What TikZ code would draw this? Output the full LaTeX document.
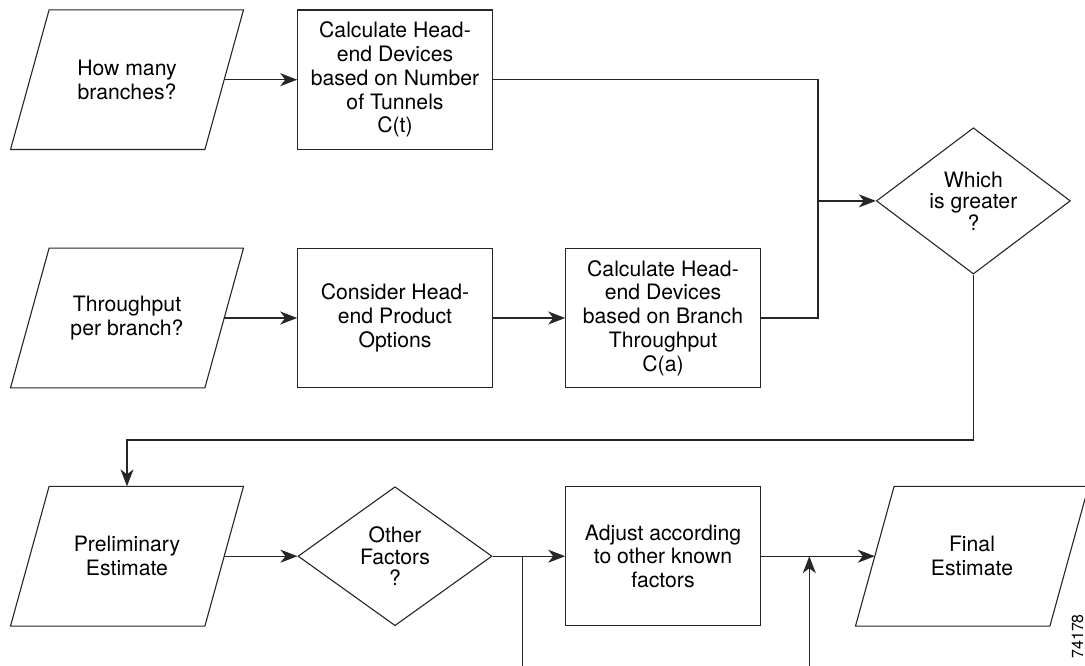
\documentclass[tikz,border=0pt]{standalone}
\usepackage{fontspec}
\setmainfont{TeX Gyre Heros}
\usetikzlibrary{shapes.geometric,arrows.meta}

\tikzset{
  every node/.style={font=\fontsize{21.2}{23.7}\selectfont},
  outline/.style={line width=1.1pt, draw=black!85},
  stepbox/.style={outline, rectangle, inner sep=0pt, align=center,
                  minimum width=194.5pt, minimum height=139.3pt},
  iobody/.style={rectangle, inner sep=0pt, align=center,
                 minimum width=194pt, minimum height=139.3pt},
  decision/.style={outline, diamond, inner sep=0pt, align=center,
                   minimum width=194pt, minimum height=139pt,
                   font=\fontsize{21.2}{21.5}\selectfont},
  link/.style={line width=1.3pt, draw=black!85},
  flow/.style={link, -{Stealth[length=17pt,width=13pt,inset=5pt]}},
}

\begin{document}
\begin{tikzpicture}[x=1pt,y=-1pt]
  \fill[white] (0,0) rectangle (1085,666);
  \useasboundingbox (0,0) rectangle (1085,666);

  % input / output blocks (parallelograms drawn around their bodies)
  \node[iobody] (p1) at (127,79.7)  {How many\\branches?};
  \node[iobody] (p2) at (127,318)   {Throughput\\per branch?};
  \node[iobody] (p3) at (127,556.2) {Preliminary\\Estimate};
  \node[iobody] (p4) at (972,556.2) {Final\\Estimate};
  \foreach \n in {p1,p2,p3,p4}
    \draw[outline] ([xshift=19.3pt]\n.north west) -- ([xshift=19.3pt]\n.north east)
      -- ([xshift=-19.3pt]\n.south east) -- ([xshift=-19.3pt]\n.south west) -- cycle;

  % process steps
  \node[stepbox] (b1) at (395,79.7) {Calculate Head-\\end Devices\\based on Number\\of Tunnels\\C(t)};
  \node[stepbox] (b2) at (395,318)  {Consider Head-\\end Product\\Options};
  \node[stepbox] (b3) at (663,318)  {Calculate Head-\\end Devices\\based on Branch\\Throughput\\C(a)};
  \node[stepbox] (b4) at (663,556.2) {Adjust according\\to other known\\factors};

  % decisions
  \node[decision] (d1) at (973.4,200.9) {Which\\is greater\\?};
  \node[decision] (d2) at (395,556.2)   {Other\\Factors\\?};

  % routing points
  \coordinate (merge) at (818,200.9);
  \coordinate (loop)  at (973.4,440);
  \coordinate (tapL)  at (522.7,556.2);
  \coordinate (tapLend) at (522.7,670);
  \coordinate (tapR)  at (809.3,556.2);
  \coordinate (tapRend) at (809.3,670);

  % connectors
  \draw[flow] (p1.east) -- (b1.west);
  \draw[flow] (p2.east) -- (b2.west);
  \draw[flow] (b2.east) -- (b3.west);
  \draw[link] (b1.east) -| (merge) |- (b3.east);
  \draw[flow] (merge) -- (d1.west);
  \draw[flow] (d1.south) -- (loop) -| (p3.north);
  \draw[flow] (p3.east) -- (d2.west);
  \draw[flow] (d2.east) -- (b4.west);
  \draw[link] (tapL) -- (tapLend);
  \draw[flow] (b4.east) -- (p4.west);
  \draw[flow] (tapRend) -- (tapR);

  % figure number
  \node[rotate=90, anchor=base east, inner sep=0pt,
        font=\fontsize{16}{16}\selectfont] (fignum) at (1083,614) {74178};
\end{tikzpicture}
\end{document}
